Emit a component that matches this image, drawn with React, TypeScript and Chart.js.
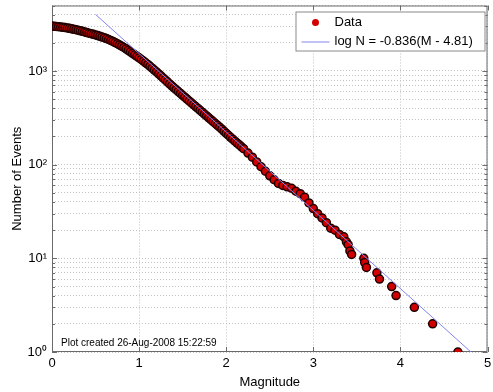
import React, { useEffect, useRef } from 'react';
import { Chart, registerables } from 'chart.js';

Chart.register(...registerables);

// ---- data ----
const magnitudes = [
  0.0, 0.025, 0.05, 0.075, 0.1, 0.125, 0.15, 0.175, 0.2, 0.225,
  0.25, 0.275, 0.3, 0.325, 0.35, 0.375, 0.4, 0.425, 0.45, 0.475,
  0.5, 0.525, 0.55, 0.575, 0.6, 0.625, 0.65, 0.675, 0.7, 0.725,
  0.75, 0.775, 0.8, 0.825, 0.85, 0.875, 0.9, 0.925, 0.95, 0.975,
  1.0, 1.025, 1.05, 1.075, 1.1, 1.125, 1.15, 1.175, 1.2, 1.225,
  1.25, 1.275, 1.3, 1.325, 1.35, 1.375, 1.4, 1.425, 1.45, 1.475,
  1.5, 1.525, 1.55, 1.575, 1.6, 1.625, 1.65, 1.675, 1.7, 1.725,
  1.75, 1.775, 1.8, 1.825, 1.85, 1.875, 1.9, 1.925, 1.95, 1.975,
  2.0, 2.025, 2.05, 2.075, 2.1, 2.125, 2.15, 2.175, 2.2,
  2.25, 2.3, 2.35, 2.4, 2.45,
  2.5, 2.55, 2.6, 2.65, 2.7, 2.75, 2.8, 2.85, 2.9, 2.95,
  3.0, 3.05, 3.1, 3.15, 3.2, 3.25, 3.3, 3.35,
  3.38, 3.4, 3.42, 3.44,
  3.58, 3.59, 3.61, 3.73, 3.76, 3.9, 3.95, 4.16, 4.37, 4.66,
];
const eventCounts = [
  3020, 3003, 2985, 2968, 2951, 2928, 2904, 2878, 2851, 2818,
  2786, 2755, 2723, 2686, 2649, 2609, 2570, 2535, 2500, 2463,
  2427, 2385, 2344, 2304, 2265, 2216, 2168, 2116, 2065, 2009,
  1954, 1897, 1841, 1781, 1722, 1661, 1603, 1545, 1489, 1433,
  1380, 1326, 1274, 1223, 1175, 1122, 1072, 1023, 977, 931,
  887, 844, 804, 765, 728, 694, 661, 631, 603, 576,
  550, 525, 501, 478, 457, 436, 417, 398, 380, 363,
  347, 331, 316, 302, 288, 275, 263, 251, 239, 227,
  216, 206, 196, 187, 178, 170, 163, 155, 148,
  133, 120, 107, 95, 85,
  76, 69, 63, 60, 58, 56, 52, 49, 45, 39,
  34, 30, 27, 24, 21, 20, 18, 17,
  15, 14, 12, 11,
  10, 9, 8, 7, 6, 5, 4, 3, 2, 1,
];
const fitSlope = 0.836;
const fitMag = 4.81;
const fitRange = [0.5, 5.0];
const xTicks = [0, 1, 2, 3, 4, 5];
const yMin = 1;
const yMax = 5000;
const yDecades = [1, 10, 100, 1000];
const yTickLabels = ['10\u2070', '10\u00B9', '10\u00B2', '10\u00B3'];
const yGridValues = [
  1, 2, 3, 4, 5, 6, 7, 8, 9,
  10, 20, 30, 40, 50, 60, 70, 80, 90,
  100, 200, 300, 400, 500, 600, 700, 800, 900,
  1000, 2000, 3000, 4000, 5000,
];
const legendLabels = ['Data', 'log N = -0.836(M - 4.81)'];
const xTitle = 'Magnitude';
const yTitle = 'Number of Events';
const stampText = 'Plot created 26-Aug-2008 15:22:59';

const FONT = '"Liberation Sans", Arial, Helvetica, sans-serif';
const DOT_FILL = '#d20000';
const DOT_EDGE = '#220000';
const FIT_COLOR = '#8484ee';
const FRAME = '#6a6a6a';

const framePlugin = {
  id: 'matlabFrame',
  beforeDatasetsDraw(chart: any) {
    const { ctx, chartArea, scales } = chart;
    const { left, right, top, bottom } = chartArea;
    ctx.save();
    ctx.strokeStyle = FRAME;
    ctx.lineWidth = 1;
    ctx.beginPath();
    ctx.rect(left + 0.5, top + 0.5, right - left - 1, bottom - top - 1);
    ctx.stroke();
    ctx.beginPath();
    xTicks.forEach((v) => {
      const px = Math.round(scales.x.getPixelForValue(v)) + 0.5;
      ctx.moveTo(px, bottom);
      ctx.lineTo(px, bottom - 5);
      ctx.moveTo(px, top);
      ctx.lineTo(px, top + 5);
    });
    yGridValues.forEach((v) => {
      const py = Math.round(scales.y.getPixelForValue(v)) + 0.5;
      const len = yDecades.includes(v) ? 5 : 3;
      ctx.moveTo(left, py);
      ctx.lineTo(left + len, py);
      ctx.moveTo(right, py);
      ctx.lineTo(right - len, py);
    });
    ctx.stroke();
    ctx.restore();
  },
  afterDraw(chart: any) {
    const { ctx, chartArea } = chart;
    const { left, right, top, bottom } = chartArea;
    ctx.save();
    // legend box
    const bw = 190;
    const bh = 40;
    const bx = right - 2 - bw;
    const by = top + 6;
    ctx.fillStyle = '#ffffff';
    ctx.fillRect(bx, by, bw, bh);
    ctx.strokeStyle = '#8a8a8a';
    ctx.lineWidth = 1;
    ctx.strokeRect(bx + 0.5, by + 0.5, bw - 1, bh - 1);
    // data marker
    ctx.beginPath();
    ctx.arc(bx + 20, by + 11, 3.5, 0, Math.PI * 2);
    ctx.fillStyle = DOT_FILL;
    ctx.fill();
    // fit line sample
    ctx.beginPath();
    ctx.moveTo(bx + 6, by + 30.5);
    ctx.lineTo(bx + 34, by + 30.5);
    ctx.strokeStyle = FIT_COLOR;
    ctx.stroke();
    ctx.fillStyle = '#000';
    ctx.font = '13px ' + FONT;
    ctx.textBaseline = 'middle';
    ctx.textAlign = 'left';
    ctx.fillText(legendLabels[0], bx + 39, by + 11);
    ctx.fillText(legendLabels[1], bx + 39, by + 30);
    // stamp
    ctx.font = '10px ' + FONT;
    ctx.fillText(stampText, left + 9, bottom - 9);
    ctx.restore();
  },
};

export default function App() {
  const canvasRef = useRef<HTMLCanvasElement | null>(null);

  useEffect(() => {
    const canvas = canvasRef.current;
    if (!canvas) return;
    const points = magnitudes.map((m, i) => ({ x: m, y: eventCounts[i] }));
    const fitPoints = fitRange.map((m) => ({ x: m, y: Math.pow(10, -fitSlope * (m - fitMag)) }));

    const chart = new Chart(canvas, {
      type: 'scatter',
      data: {
        datasets: [
          {
            label: legendLabels[1],
            data: fitPoints,
            showLine: true,
            borderColor: FIT_COLOR,
            borderWidth: 1,
            pointRadius: 0,
            fill: false,
            order: 0,
          },
          {
            label: legendLabels[0],
            data: points,
            showLine: false,
            pointRadius: 4,
            pointBackgroundColor: DOT_FILL,
            pointBorderColor: DOT_EDGE,
            pointBorderWidth: 1.5,
            order: 1,
          },
        ],
      },
      options: {
        animation: false,
        responsive: false,
        devicePixelRatio: 1,
        events: [],
        layout: { padding: { left: 0, right: 1, top: 5, bottom: 0 } },
        plugins: {
          legend: { display: false },
          tooltip: { enabled: false },
          title: { display: false },
        },
        scales: {
          x: {
            type: 'linear',
            min: 0,
            max: 5,
            afterBuildTicks: (s: any) => {
              s.ticks = xTicks.map((v) => ({ value: v }));
            },
            afterFit: (s: any) => {
              s.height = 40;
              s.paddingLeft = 0;
              s.paddingRight = 0;
            },
            ticks: {
              font: { family: FONT, size: 13 },
              color: '#000',
              padding: 4,
              maxRotation: 0,
              autoSkip: false,
            },
            grid: { color: '#c2c2c2', lineWidth: 1, drawTicks: false },
            border: { display: false, dash: [1, 2] },
            title: {
              display: true,
              text: xTitle,
              color: '#000',
              font: { family: FONT, size: 13 },
              padding: { top: 0, bottom: 2 },
            },
          },
          y: {
            type: 'logarithmic',
            min: yMin,
            max: yMax,
            afterBuildTicks: (s: any) => {
              s.ticks = yGridValues.map((v) => ({ value: v }));
            },
            afterFit: (s: any) => {
              s.width = 52;
              s.paddingTop = 0;
              s.paddingBottom = 0;
            },
            ticks: {
              font: { family: FONT, size: 13 },
              color: '#000',
              padding: 5,
              autoSkip: false,
              callback: (v: any) => {
                const i = yDecades.indexOf(Number(v));
                return i >= 0 ? yTickLabels[i] : '';
              },
            },
            grid: { color: '#c2c2c2', lineWidth: 1, drawTicks: false },
            border: { display: false, dash: [1, 2] },
            title: {
              display: true,
              text: yTitle,
              color: '#000',
              font: { family: FONT, size: 13 },
              padding: { top: 10, bottom: 0 },
            },
          },
        },
      },
      plugins: [framePlugin],
    } as any);

    return () => chart.destroy();
  }, []);

  return (
    <div style={{ position: 'fixed', left: 0, top: 0, width: 493, height: 392, background: '#fff' }}>
      <canvas ref={canvasRef} width={493} height={392} style={{ display: 'block' }} />
    </div>
  );
}
